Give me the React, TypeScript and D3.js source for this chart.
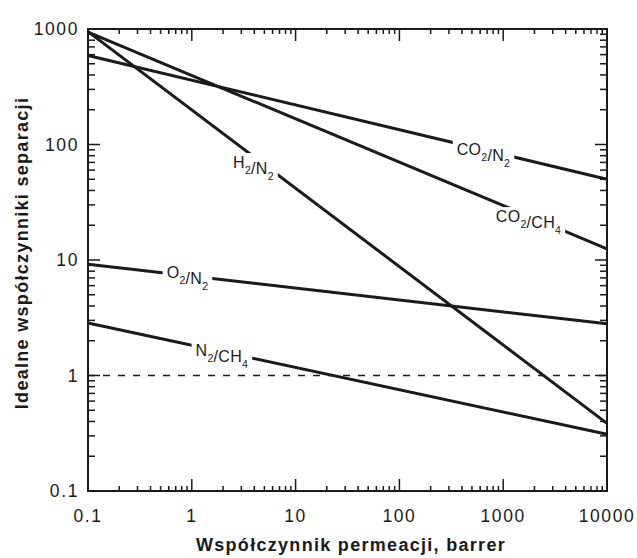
import { useEffect, useRef } from 'react';
import * as d3 from 'd3';

// wartości (log-log, linie proste)
const xTicks = [0.1, 1, 10, 100, 1000, 10000];
const yTicks = [0.1, 1, 10, 100, 1000];
const xTickLabels = ['0.1', '1', '10', '100', '1000', '10000'];
const yTickLabels = ['0.1', '1', '10', '100', '1000'];

const seriesKeys = ['H2/N2', 'CO2/CH4', 'CO2/N2', 'O2/N2', 'N2/CH4'];
const h2n2 = [[0.1, 950], [10000, 0.385]];
const co2ch4 = [[0.1, 940], [10000, 12.5]];
const co2n2 = [[0.1, 590], [10000, 50]];
const o2n2 = [[0.1, 9.2], [10000, 2.8]];
const n2ch4 = [[0.1, 2.85], [10000, 0.31]];
const seriesValues = [h2n2, co2ch4, co2n2, o2n2, n2ch4];

// etykiety: [główna część, indeks dolny] ...
const labelParts = [
  [['H', '2'], ['/N', '2']],
  [['CO', '2'], ['/CH', '4']],
  [['CO', '2'], ['/N', '2']],
  [['O', '2'], ['/N', '2']],
  [['N', '2'], ['/CH', '4']],
];
const labelX = [3.93, 1754, 646, 0.909, 1.95];
const labelY = [70.5, 24, 91.5, 7.87, 1.66];

const referenceLine = 1;

const xTitle = 'Współczynnik permeacji, barrer';
const yTitle = 'Idealne współczynniki separacji';

export default function App() {
  const svgRef = useRef<SVGSVGElement>(null);
  const width = 637;
  const height = 558;

  useEffect(() => {
    const root = d3.select(svgRef.current);
    root.selectAll('*').remove();

    const margin = { top: 29, right: 30, bottom: 67, left: 88 };
    const innerWidth = width - margin.left - margin.right;
    const innerHeight = height - margin.top - margin.bottom;
    const font = '"Liberation Sans", Arial, sans-serif';
    const ink = '#1a1a1a';

    const x = d3.scaleLog().domain([0.1, 10000]).range([0, innerWidth]);
    const y = d3.scaleLog().domain([0.1, 1000]).range([innerHeight, 0]);

    const svg = root.append('g').attr('transform', `translate(${margin.left},${margin.top})`);

    // Linia odniesienia (przerywana)
    svg.append('line')
      .attr('x1', 0).attr('x2', innerWidth)
      .attr('y1', y(referenceLine)).attr('y2', y(referenceLine))
      .attr('stroke', ink).attr('stroke-width', 1.3)
      .attr('stroke-dasharray', '7 8');

    // Serie
    const line = d3.line<number[]>().x(d => x(d[0])).y(d => y(d[1]));
    svg.selectAll('path.series')
      .data(seriesValues)
      .enter()
      .append('path')
      .attr('class', 'series')
      .attr('d', d => line(d))
      .attr('fill', 'none')
      .attr('stroke', ink)
      .attr('stroke-width', 3);

    // Etykiety z białym tłem (przerwa w linii)
    seriesKeys.forEach((key, i) => {
      const g = svg.append('g').attr('class', 'label').attr('data-key', key);
      const rect = g.append('rect').attr('fill', '#fff');
      const t = g.append('text')
        .attr('x', x(labelX[i]))
        .attr('y', y(labelY[i]) + 6)
        .attr('text-anchor', 'middle')
        .attr('font-family', font)
        .attr('font-size', 16)
        .attr('letter-spacing', 0.3)
        .attr('fill', ink);
      labelParts[i].forEach(([main, sub]) => {
        t.append('tspan').text(main);
        t.append('tspan').attr('font-size', 10.5).attr('dy', 6).text(sub);
        t.append('tspan').attr('font-size', 16).attr('dy', -6).text('');
      });
      const bb = (t.node() as SVGTextElement).getBBox();
      const pad = 4;
      rect.attr('x', bb.x - pad).attr('y', bb.y - 1)
        .attr('width', bb.width + pad * 2).attr('height', bb.height + 2);
    });

    // Podziałki (do środka, na wszystkich bokach)
    const minor = (lo: number, hi: number) => {
      const out: number[] = [];
      for (let e = Math.log10(lo); e < Math.log10(hi); e++) {
        for (let m = 2; m <= 9; m++) out.push(m * Math.pow(10, e));
      }
      return out;
    };
    const xMinor = minor(0.1, 10000);
    const yMinor = minor(0.1, 1000);
    const majorLen = 12;
    const minorLen = 5;
    const tickG = svg.append('g').attr('stroke', ink).attr('stroke-width', 1.5);

    xTicks.forEach(v => {
      tickG.append('line').attr('x1', x(v)).attr('x2', x(v)).attr('y1', innerHeight).attr('y2', innerHeight - majorLen);
      tickG.append('line').attr('x1', x(v)).attr('x2', x(v)).attr('y1', 0).attr('y2', majorLen);
    });
    xMinor.forEach(v => {
      tickG.append('line').attr('x1', x(v)).attr('x2', x(v)).attr('y1', innerHeight).attr('y2', innerHeight - minorLen);
      tickG.append('line').attr('x1', x(v)).attr('x2', x(v)).attr('y1', 0).attr('y2', minorLen);
    });
    yTicks.forEach(v => {
      tickG.append('line').attr('y1', y(v)).attr('y2', y(v)).attr('x1', 0).attr('x2', majorLen);
      tickG.append('line').attr('y1', y(v)).attr('y2', y(v)).attr('x1', innerWidth).attr('x2', innerWidth - majorLen);
    });
    yMinor.forEach(v => {
      tickG.append('line').attr('y1', y(v)).attr('y2', y(v)).attr('x1', 0).attr('x2', minorLen + 2);
      tickG.append('line').attr('y1', y(v)).attr('y2', y(v)).attr('x1', innerWidth).attr('x2', innerWidth - minorLen - 2);
    });

    // Ramka
    svg.append('rect')
      .attr('x', 0).attr('y', 0)
      .attr('width', innerWidth).attr('height', innerHeight)
      .attr('fill', 'none').attr('stroke', ink).attr('stroke-width', 2);

    // Opisy podziałek
    svg.selectAll('text.xtick')
      .data(xTicks)
      .enter()
      .append('text')
      .attr('class', 'xtick')
      .attr('x', d => x(d))
      .attr('y', innerHeight + 31)
      .attr('text-anchor', 'middle')
      .attr('font-family', font)
      .attr('font-size', 17.5)
      .attr('letter-spacing', 1.6)
      .attr('fill', ink)
      .text((d, i) => xTickLabels[i]);

    svg.selectAll('text.ytick')
      .data(yTicks)
      .enter()
      .append('text')
      .attr('class', 'ytick')
      .attr('x', -9)
      .attr('y', d => y(d) + 6)
      .attr('text-anchor', 'end')
      .attr('font-family', font)
      .attr('font-size', 17.5)
      .attr('letter-spacing', 1.6)
      .attr('fill', ink)
      .text((d, i) => yTickLabels[i]);

    // Tytuły osi
    root.append('text')
      .attr('x', 351)
      .attr('y', 551)
      .attr('text-anchor', 'middle')
      .attr('font-family', font)
      .attr('font-size', 18)
      .attr('letter-spacing', 1.3)
      .attr('font-weight', 'bold')
      .attr('fill', ink)
      .text(xTitle);

    root.append('text')
      .attr('transform', 'translate(28,253) rotate(-90)')
      .attr('text-anchor', 'middle')
      .attr('font-family', font)
      .attr('font-size', 18)
      .attr('letter-spacing', 1.3)
      .attr('font-weight', 'bold')
      .attr('fill', ink)
      .text(yTitle);
  }, []);

  return (
    <svg
      ref={svgRef}
      width={width}
      height={height}
      style={{ position: 'absolute', left: 0, top: 0, background: '#fff' }}
    />
  );
}
